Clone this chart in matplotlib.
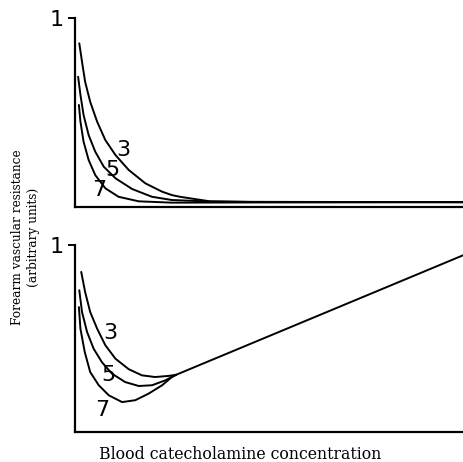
import matplotlib
matplotlib.use("Agg")
import matplotlib.pyplot as plt

# upper panel: resistance falls with catecholamine (curves 3, 5, 7)
top_x3 = [0.011, 0.018, 0.026, 0.039, 0.057, 0.078, 0.104, 0.138, 0.181, 0.224, 0.249, 0.270, 0.347, 0.450, 1.0]
top_y3 = [0.866, 0.769, 0.663, 0.557, 0.451, 0.354, 0.275, 0.196, 0.125, 0.081, 0.063, 0.054, 0.030, 0.027, 0.026]
top_x5 = [0.008, 0.014, 0.022, 0.035, 0.052, 0.074, 0.104, 0.147, 0.198, 0.249, 0.347, 0.450, 1.0]
top_y5 = [0.689, 0.593, 0.487, 0.381, 0.293, 0.213, 0.152, 0.095, 0.054, 0.037, 0.029, 0.027, 0.026]
top_x7 = [0.010, 0.014, 0.022, 0.035, 0.052, 0.078, 0.112, 0.164, 0.249, 0.450, 1.0]
top_y7 = [0.540, 0.451, 0.346, 0.249, 0.169, 0.099, 0.054, 0.030, 0.023, 0.024, 0.025]

# lower panel: falls, then all three rise along one common line
bot_x3 = [0.016, 0.026, 0.039, 0.057, 0.078, 0.104, 0.138, 0.172, 0.206, 0.241, 0.260]
bot_y3 = [0.856, 0.749, 0.642, 0.552, 0.464, 0.392, 0.336, 0.303, 0.294, 0.300, 0.306]
bot_x5 = [0.011, 0.018, 0.031, 0.048, 0.069, 0.095, 0.129, 0.164, 0.198, 0.232, 0.260]
bot_y5 = [0.758, 0.642, 0.535, 0.445, 0.374, 0.312, 0.267, 0.246, 0.250, 0.276, 0.306]
bot_x7 = [0.010, 0.014, 0.025, 0.039, 0.061, 0.087, 0.121, 0.155, 0.189, 0.224, 0.249, 0.260]
bot_y7 = [0.668, 0.552, 0.428, 0.321, 0.250, 0.196, 0.160, 0.170, 0.205, 0.250, 0.294, 0.306]
line_x = [0.260, 1.0]
line_y = [0.306, 0.947]

curve_names = ["3", "5", "7"]

fig = plt.figure(figsize=(4.64, 4.62), dpi=100)
W, H = 464.0, 462.0
ax_top = fig.add_axes([75 / W, (H - 207) / H, 389 / W, 189 / H])
ax_bot = fig.add_axes([75 / W, (H - 432) / H, 389 / W, 187 / H])

lw = 1.4
for x, y in [(top_x3, top_y3), (top_x5, top_y5), (top_x7, top_y7)]:
    ax_top.plot(x, y, color="black", lw=lw, solid_capstyle="round", solid_joinstyle="round")
for x, y in [(bot_x3, bot_y3), (bot_x5, bot_y5), (bot_x7, bot_y7)]:
    ax_bot.plot(x, y, color="black", lw=lw, solid_capstyle="round", solid_joinstyle="round")
ax_bot.plot(line_x, line_y, color="black", lw=lw)

# curve numbers
top_pos = [(0.123, 0.302), (0.095, 0.196), (0.062, 0.090)]
bot_pos = [(0.090, 0.529), (0.087, 0.305), (0.069, 0.118)]
for name, (tx, ty) in zip(curve_names, top_pos):
    ax_top.text(tx, ty, name, fontsize=16, ha="center", va="center",
                family="DejaVu Sans")
for name, (tx, ty) in zip(curve_names, bot_pos):
    ax_bot.text(tx, ty, name, fontsize=16, ha="center", va="center",
                family="DejaVu Sans")

for ax in [ax_top, ax_bot]:
    ax.set_xlim(0, 1)
    ax.set_ylim(0, 1)
    ax.spines["top"].set_visible(False)
    ax.spines["right"].set_visible(False)
    ax.spines["left"].set_linewidth(1.6)
    ax.spines["bottom"].set_linewidth(1.6)
    ax.set_xticks([])
    ax.set_yticks([1])
    ax.set_yticklabels(["1"], fontsize=16, family="DejaVu Sans")
    ax.tick_params(axis="y", direction="out", length=5, width=1.4, pad=3)

fig.text(18 / W, 1 - 237 / H, "Forearm vascular resistance", rotation=90,
         ha="center", va="center", fontsize=8.7, family="DejaVu Serif")
fig.text(33 / W, 1 - 237 / H, "(arbitrary units)", rotation=90,
         ha="center", va="center", fontsize=8.7, family="DejaVu Serif")
fig.text(240 / W, 1 - 459 / H, "Blood catecholamine concentration",
         ha="center", va="baseline", fontsize=11.3, family="DejaVu Serif")

fig.savefig("out.png", dpi=100)
